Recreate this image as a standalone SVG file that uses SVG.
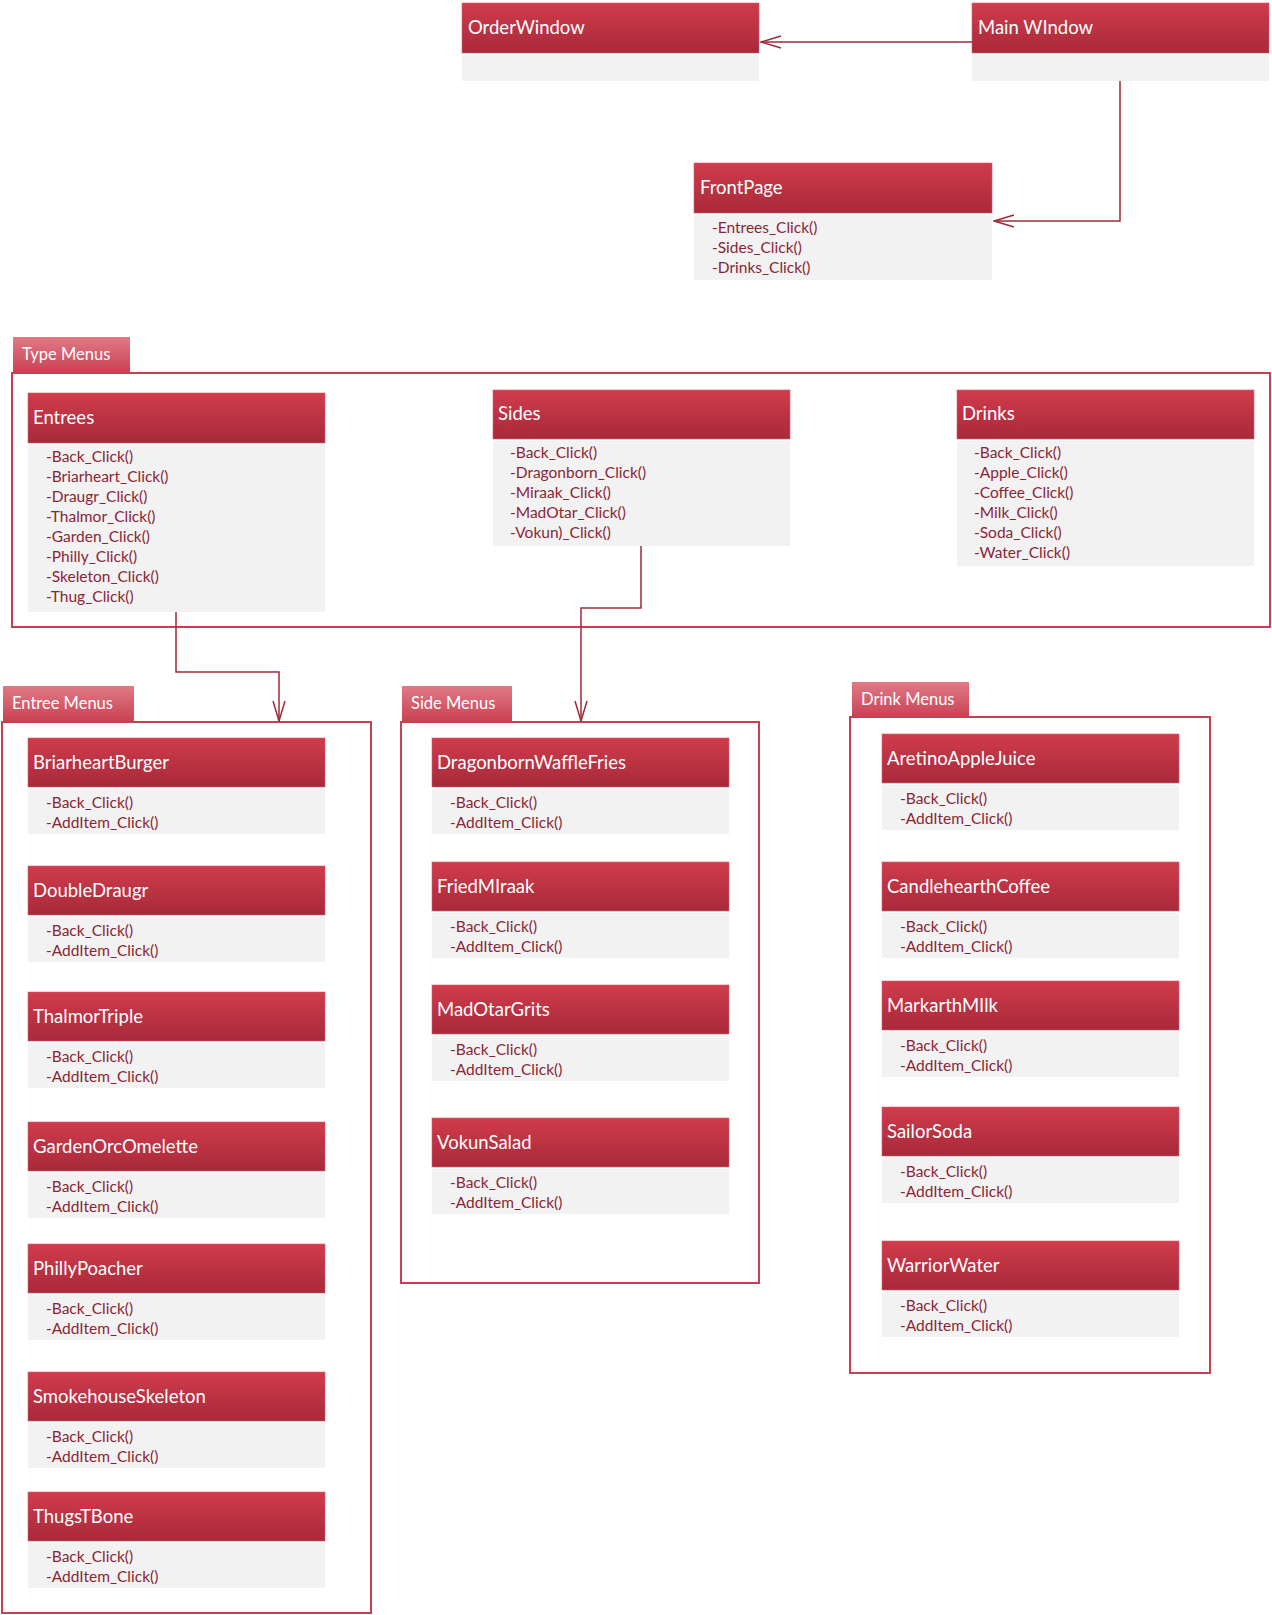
<svg xmlns="http://www.w3.org/2000/svg" width="1272" height="1615" viewBox="0 0 1272 1615">
<defs>
<linearGradient id="hg" x1="0" y1="0" x2="0" y2="1">
<stop offset="0" stop-color="#d03c4c"/>
<stop offset="1" stop-color="#a8293a"/>
</linearGradient>
<linearGradient id="tg" x1="0" y1="0" x2="0" y2="1">
<stop offset="0" stop-color="#e07a86"/>
<stop offset="1" stop-color="#ca4254"/>
</linearGradient>
<marker id="arr" viewBox="0 0 22 14" refX="21" refY="7" markerWidth="22" markerHeight="14" markerUnits="userSpaceOnUse" orient="auto">
<path d="M1 1 L21 7 L1 13" fill="none" stroke="#9e2a3a" stroke-width="1.5"/>
</marker>
<style>
.hd{fill:url(#hg);stroke:#d4606c;stroke-width:0.6}
.bd{fill:#f2f2f2}
.tt{font-family:Lato,"Open Sans","Liberation Sans",sans-serif;font-size:18.5px;fill:#ffffff}
.mt{font-family:Lato,"Open Sans","Liberation Sans",sans-serif;font-size:15.5px;fill:#8b2535}
.fr{fill:none;stroke:#c8404f;stroke-width:2}
.tab{fill:url(#tg)}
.tl{font-family:Lato,"Open Sans","Liberation Sans",sans-serif;font-size:16.5px;fill:#ffffff}
.cn{fill:none;stroke:#9e2a3a;stroke-width:1.5}
</style>
</defs>
<rect width="1272" height="1615" fill="#ffffff"/>

<!-- frames -->
<g id="frame-type">
<rect class="tab" x="13" y="337" width="117" height="35"/>
<text class="tl" x="22" y="360">Type Menus</text>
<rect class="fr" x="12" y="373" width="1258" height="254"/>
</g>
<g id="frame-entree">
<rect class="tab" x="3" y="686" width="131" height="35"/>
<text class="tl" x="12" y="709">Entree Menus</text>
<rect class="fr" x="2" y="722" width="369" height="891"/>
</g>
<g id="frame-side">
<rect class="tab" x="402" y="686" width="110" height="35"/>
<text class="tl" x="411" y="709">Side Menus</text>
<rect class="fr" x="401" y="722" width="358" height="561"/>
</g>
<g id="frame-drink">
<rect class="tab" x="852" y="682" width="117" height="35"/>
<text class="tl" x="861" y="705">Drink Menus</text>
<rect class="fr" x="850" y="717" width="360" height="656"/>
</g>

<!-- top nodes -->
<g id="OrderWindow">
<rect class="hd" x="462" y="3" width="297" height="50"/>
<rect class="bd" x="462" y="55" width="297" height="26"/>
<text class="tt" x="468" y="34">OrderWindow</text>
</g>
<g id="MainWindow">
<rect class="hd" x="972" y="3" width="297" height="50"/>
<rect class="bd" x="972" y="55" width="297" height="26"/>
<text class="tt" x="978" y="34">Main WIndow</text>
</g>
<g id="FrontPage">
<rect class="hd" x="694" y="163" width="298" height="50"/>
<rect class="bd" x="694" y="215" width="298" height="65"/>
<text class="tt" x="700" y="194">FrontPage</text>
<text class="mt" x="712" y="233">-Entrees_Click()</text>
<text class="mt" x="712" y="253">-Sides_Click()</text>
<text class="mt" x="712" y="273">-Drinks_Click()</text>
</g>

<!-- type menus -->
<g id="Entrees">
<rect class="hd" x="28" y="393" width="297" height="50"/>
<rect class="bd" x="28" y="445" width="297" height="167"/>
<text class="tt" x="33" y="424">Entrees</text>
<text class="mt" x="46" y="462">-Back_Click()</text>
<text class="mt" x="46" y="482">-Briarheart_Click()</text>
<text class="mt" x="46" y="502">-Draugr_Click()</text>
<text class="mt" x="46" y="522">-Thalmor_Click()</text>
<text class="mt" x="46" y="542">-Garden_Click()</text>
<text class="mt" x="46" y="562">-Philly_Click()</text>
<text class="mt" x="46" y="582">-Skeleton_Click()</text>
<text class="mt" x="46" y="602">-Thug_Click()</text>
</g>
<g id="Sides">
<rect class="hd" x="493" y="390" width="297" height="49"/>
<rect class="bd" x="493" y="441" width="297" height="105"/>
<text class="tt" x="498" y="420">Sides</text>
<text class="mt" x="510" y="458">-Back_Click()</text>
<text class="mt" x="510" y="478">-Dragonborn_Click()</text>
<text class="mt" x="510" y="498">-Miraak_Click()</text>
<text class="mt" x="510" y="518">-MadOtar_Click()</text>
<text class="mt" x="510" y="538">-Vokun)_Click()</text>
</g>
<g id="Drinks">
<rect class="hd" x="957" y="390" width="297" height="49"/>
<rect class="bd" x="957" y="441" width="297" height="125"/>
<text class="tt" x="962" y="420">Drinks</text>
<text class="mt" x="974" y="458">-Back_Click()</text>
<text class="mt" x="974" y="478">-Apple_Click()</text>
<text class="mt" x="974" y="498">-Coffee_Click()</text>
<text class="mt" x="974" y="518">-Milk_Click()</text>
<text class="mt" x="974" y="538">-Soda_Click()</text>
<text class="mt" x="974" y="558">-Water_Click()</text>
</g>

<!-- entree menus -->
<g id="BriarheartBurger" transform="translate(28,738)">
<rect class="hd" width="297" height="49"/><rect class="bd" y="51" width="297" height="45"/>
<text class="tt" x="5" y="31">BriarheartBurger</text>
<text class="mt" x="18" y="70">-Back_Click()</text><text class="mt" x="18" y="90">-AddItem_Click()</text>
</g>
<g id="DoubleDraugr" transform="translate(28,866)">
<rect class="hd" width="297" height="49"/><rect class="bd" y="51" width="297" height="45"/>
<text class="tt" x="5" y="31">DoubleDraugr</text>
<text class="mt" x="18" y="70">-Back_Click()</text><text class="mt" x="18" y="90">-AddItem_Click()</text>
</g>
<g id="ThalmorTriple" transform="translate(28,992)">
<rect class="hd" width="297" height="49"/><rect class="bd" y="51" width="297" height="45"/>
<text class="tt" x="5" y="31">ThalmorTriple</text>
<text class="mt" x="18" y="70">-Back_Click()</text><text class="mt" x="18" y="90">-AddItem_Click()</text>
</g>
<g id="GardenOrcOmelette" transform="translate(28,1122)">
<rect class="hd" width="297" height="49"/><rect class="bd" y="51" width="297" height="45"/>
<text class="tt" x="5" y="31">GardenOrcOmelette</text>
<text class="mt" x="18" y="70">-Back_Click()</text><text class="mt" x="18" y="90">-AddItem_Click()</text>
</g>
<g id="PhillyPoacher" transform="translate(28,1244)">
<rect class="hd" width="297" height="49"/><rect class="bd" y="51" width="297" height="45"/>
<text class="tt" x="5" y="31">PhillyPoacher</text>
<text class="mt" x="18" y="70">-Back_Click()</text><text class="mt" x="18" y="90">-AddItem_Click()</text>
</g>
<g id="SmokehouseSkeleton" transform="translate(28,1372)">
<rect class="hd" width="297" height="49"/><rect class="bd" y="51" width="297" height="45"/>
<text class="tt" x="5" y="31">SmokehouseSkeleton</text>
<text class="mt" x="18" y="70">-Back_Click()</text><text class="mt" x="18" y="90">-AddItem_Click()</text>
</g>
<g id="ThugsTBone" transform="translate(28,1492)">
<rect class="hd" width="297" height="49"/><rect class="bd" y="51" width="297" height="45"/>
<text class="tt" x="5" y="31">ThugsTBone</text>
<text class="mt" x="18" y="70">-Back_Click()</text><text class="mt" x="18" y="90">-AddItem_Click()</text>
</g>

<!-- side menus -->
<g id="DragonbornWaffleFries" transform="translate(432,738)">
<rect class="hd" width="297" height="49"/><rect class="bd" y="51" width="297" height="45"/>
<text class="tt" x="5" y="31">DragonbornWaffleFries</text>
<text class="mt" x="18" y="70">-Back_Click()</text><text class="mt" x="18" y="90">-AddItem_Click()</text>
</g>
<g id="FriedMIraak" transform="translate(432,862)">
<rect class="hd" width="297" height="49"/><rect class="bd" y="51" width="297" height="45"/>
<text class="tt" x="5" y="31">FriedMIraak</text>
<text class="mt" x="18" y="70">-Back_Click()</text><text class="mt" x="18" y="90">-AddItem_Click()</text>
</g>
<g id="MadOtarGrits" transform="translate(432,985)">
<rect class="hd" width="297" height="49"/><rect class="bd" y="51" width="297" height="45"/>
<text class="tt" x="5" y="31">MadOtarGrits</text>
<text class="mt" x="18" y="70">-Back_Click()</text><text class="mt" x="18" y="90">-AddItem_Click()</text>
</g>
<g id="VokunSalad" transform="translate(432,1118)">
<rect class="hd" width="297" height="49"/><rect class="bd" y="51" width="297" height="45"/>
<text class="tt" x="5" y="31">VokunSalad</text>
<text class="mt" x="18" y="70">-Back_Click()</text><text class="mt" x="18" y="90">-AddItem_Click()</text>
</g>

<!-- drink menus -->
<g id="AretinoAppleJuice" transform="translate(882,734)">
<rect class="hd" width="297" height="49"/><rect class="bd" y="51" width="297" height="45"/>
<text class="tt" x="5" y="31">AretinoAppleJuice</text>
<text class="mt" x="18" y="70">-Back_Click()</text><text class="mt" x="18" y="90">-AddItem_Click()</text>
</g>
<g id="CandlehearthCoffee" transform="translate(882,862)">
<rect class="hd" width="297" height="49"/><rect class="bd" y="51" width="297" height="45"/>
<text class="tt" x="5" y="31">CandlehearthCoffee</text>
<text class="mt" x="18" y="70">-Back_Click()</text><text class="mt" x="18" y="90">-AddItem_Click()</text>
</g>
<g id="MarkarthMIlk" transform="translate(882,981)">
<rect class="hd" width="297" height="49"/><rect class="bd" y="51" width="297" height="45"/>
<text class="tt" x="5" y="31">MarkarthMIlk</text>
<text class="mt" x="18" y="70">-Back_Click()</text><text class="mt" x="18" y="90">-AddItem_Click()</text>
</g>
<g id="SailorSoda" transform="translate(882,1107)">
<rect class="hd" width="297" height="49"/><rect class="bd" y="51" width="297" height="45"/>
<text class="tt" x="5" y="31">SailorSoda</text>
<text class="mt" x="18" y="70">-Back_Click()</text><text class="mt" x="18" y="90">-AddItem_Click()</text>
</g>
<g id="WarriorWater" transform="translate(882,1241)">
<rect class="hd" width="297" height="49"/><rect class="bd" y="51" width="297" height="45"/>
<text class="tt" x="5" y="31">WarriorWater</text>
<text class="mt" x="18" y="70">-Back_Click()</text><text class="mt" x="18" y="90">-AddItem_Click()</text>
</g>

<!-- connectors -->
<g id="connectors">
<path class="cn" d="M972 42 H761" marker-end="url(#arr)"/>
<path class="cn" d="M1120 81 V221 H994" marker-end="url(#arr)"/>
<path class="cn" d="M176 612 V672 H279 V721" marker-end="url(#arr)"/>
<path class="cn" d="M641 546 V608 H581 V721" marker-end="url(#arr)"/>
</g>
</svg>
